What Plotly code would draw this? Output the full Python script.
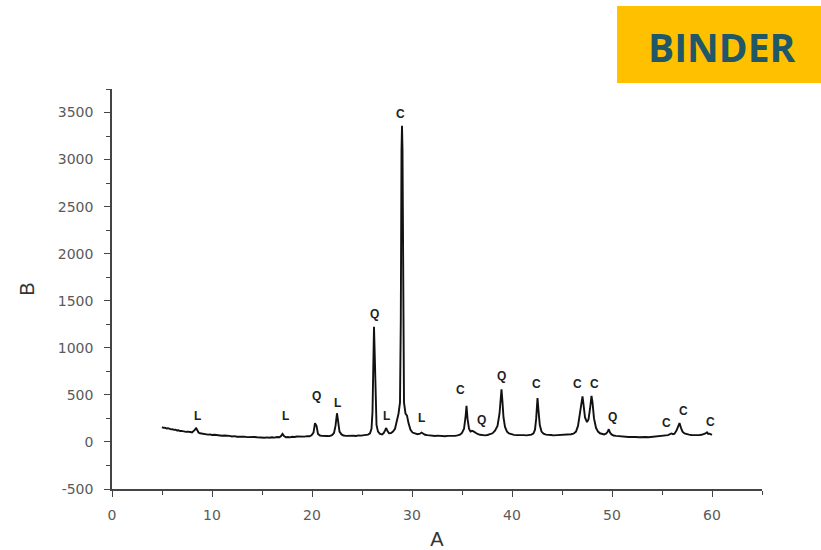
import plotly.graph_objects as go

# Diffraction pattern (A = position, B = intensity)
pattern_points = [
    (5.0, 158), (5.15, 150), (5.3, 152), (5.45, 143), (5.6, 146), (5.75, 138), (5.9, 134),
    (6.05, 136), (6.2, 128), (6.35, 130), (6.5, 122), (6.65, 124), (6.8, 116), (6.95, 118),
    (7.1, 112), (7.25, 113), (7.4, 107), (7.55, 110), (7.7, 104), (7.85, 106), (8.0, 102),
    (8.15, 112), (8.3, 130), (8.4, 150), (8.5, 128), (8.65, 100), (8.8, 92), (9.0, 88),
    (9.2, 84), (9.4, 86), (9.6, 78), (9.8, 80), (10.0, 74), (10.25, 76), (10.5, 70),
    (10.75, 72), (11.0, 66), (11.25, 68), (11.5, 62), (11.75, 64), (12.0, 58), (12.25, 62),
    (12.5, 55), (12.75, 58), (13.0, 53), (13.25, 57), (13.5, 51), (13.75, 54), (14.0, 49),
    (14.25, 53), (14.5, 50), (14.75, 46), (15.0, 50), (15.25, 45), (15.5, 48), (15.75, 44),
    (16.0, 49), (16.25, 46), (16.5, 52), (16.75, 50), (16.9, 62), (17.05, 85), (17.2, 62),
    (17.4, 50), (17.6, 53), (17.8, 49), (18.0, 55), (18.25, 52), (18.5, 58), (18.75, 55),
    (19.0, 60), (19.25, 57), (19.5, 62), (19.75, 60), (19.95, 70), (20.15, 100), (20.3, 200),
    (20.45, 170), (20.6, 85), (20.8, 68), (21.0, 64), (21.25, 60), (21.5, 63), (21.75, 62),
    (22.0, 72), (22.2, 95), (22.35, 170), (22.5, 305), (22.6, 200), (22.75, 110), (22.95, 80),
    (23.15, 68), (23.4, 64), (23.65, 67), (23.9, 62), (24.15, 66), (24.4, 64), (24.65, 70),
    (24.9, 67), (25.15, 72), (25.4, 70), (25.6, 78), (25.8, 92), (25.95, 140), (26.05, 320),
    (26.15, 1000), (26.2, 1225), (26.28, 900), (26.36, 400), (26.45, 180), (26.6, 110),
    (26.8, 85), (27.0, 80), (27.15, 92), (27.3, 120), (27.42, 148), (27.55, 115), (27.7, 92),
    (27.9, 95), (28.1, 110), (28.3, 140), (28.5, 220), (28.65, 300), (28.8, 420),
    (28.88, 1300), (28.95, 3100), (29.0, 3360), (29.05, 3100), (29.12, 1250), (29.2, 420),
    (29.35, 300), (29.5, 280), (29.65, 200), (29.85, 130), (30.05, 100), (30.3, 88),
    (30.55, 82), (30.8, 88), (30.95, 100), (31.1, 90), (31.3, 76), (31.55, 72), (31.8, 68),
    (32.05, 70), (32.3, 64), (32.55, 67), (32.8, 62), (33.05, 65), (33.3, 60), (33.55, 64),
    (33.8, 62), (34.05, 66), (34.3, 64), (34.55, 70), (34.8, 78), (35.0, 95), (35.2, 140),
    (35.35, 260), (35.45, 385), (35.55, 250), (35.7, 140), (35.85, 110), (36.0, 118),
    (36.15, 112), (36.35, 95), (36.55, 85), (36.8, 76), (37.05, 72), (37.3, 70), (37.55, 74),
    (37.8, 80), (38.05, 92), (38.3, 120), (38.55, 170), (38.75, 300), (38.85, 450),
    (38.95, 560), (39.05, 420), (39.15, 260), (39.3, 160), (39.5, 110), (39.7, 90),
    (39.95, 80), (40.2, 75), (40.45, 72), (40.7, 74), (40.95, 70), (41.2, 72), (41.45, 70),
    (41.7, 74), (41.95, 78), (42.15, 92), (42.3, 130), (42.42, 250), (42.55, 465),
    (42.65, 330), (42.78, 180), (42.95, 110), (43.15, 88), (43.4, 78), (43.65, 72),
    (43.9, 74), (44.15, 70), (44.4, 72), (44.65, 70), (44.9, 74), (45.15, 72), (45.4, 78),
    (45.65, 75), (45.9, 82), (46.15, 88), (46.4, 110), (46.6, 170), (46.8, 300), (46.95, 430),
    (47.05, 485), (47.15, 400), (47.3, 260), (47.5, 210), (47.65, 240), (47.8, 350),
    (47.95, 490), (48.05, 420), (48.2, 250), (48.4, 150), (48.6, 110), (48.8, 92), (49.0, 85),
    (49.2, 80), (49.4, 88), (49.55, 105), (49.68, 135), (49.8, 100), (49.95, 80), (50.15, 68),
    (50.4, 64), (50.65, 60), (50.9, 58), (51.15, 56), (51.4, 55), (51.65, 52), (51.9, 54),
    (52.15, 50), (52.4, 52), (52.65, 50), (52.9, 53), (53.15, 49), (53.4, 52), (53.65, 50),
    (53.9, 53), (54.15, 52), (54.4, 56), (54.65, 55), (54.9, 60), (55.15, 62), (55.4, 66),
    (55.6, 72), (55.8, 82), (55.95, 90), (56.1, 82), (56.25, 88), (56.45, 120), (56.6, 165),
    (56.75, 200), (56.9, 150), (57.05, 110), (57.25, 90), (57.45, 82), (57.7, 78), (57.95, 74),
    (58.2, 72), (58.45, 74), (58.7, 72), (58.95, 76), (59.2, 80), (59.35, 90), (59.5, 102),
    (59.62, 85), (59.75, 88), (59.9, 78), (60.0, 75),
]
pattern_x = [p[0] for p in pattern_points]
pattern_y = [p[1] for p in pattern_points]

# Phase labels (L, Q, C) and where they sit
label_text = ["L", "L", "Q", "L", "Q", "L", "C", "L", "C", "Q", "Q", "C", "C", "C", "Q",
              "C", "C", "C"]
label_x = [8.5, 17.3, 20.4, 22.5, 26.2, 27.4, 28.8, 30.9, 34.8, 36.9, 38.9, 42.4, 46.5,
           48.2, 50.0, 55.4, 57.1, 59.8]
label_y = [277, 277, 489, 415, 1362, 277, 3489, 255, 553, 234, 702, 617, 617, 617, 266,
           202, 330, 213]

x_ticks = [0, 10, 20, 30, 40, 50, 60]
y_ticks = [-500, 0, 500, 1000, 1500, 2000, 2500, 3000, 3500]

fig = go.Figure()
fig.add_trace(go.Scatter(x=pattern_x, y=pattern_y, mode="lines",
                         line=dict(color="#111111", width=1.9), hoverinfo="skip",
                         showlegend=False))

for t, lx, ly in zip(label_text, label_x, label_y):
    fig.add_annotation(x=lx, y=ly, text=t, showarrow=False,
                       font=dict(family="Liberation Sans", size=12, color="#222222",
                                 weight="bold"))

axis_common = dict(showgrid=False, zeroline=False, showline=True, linecolor="#444444",
                   linewidth=1.5, ticks="outside", ticklen=6, tickwidth=1.3,
                   tickcolor="#444444", automargin=False,
                   tickfont=dict(family="DejaVu Sans", size=14, color="#5a5a5a"))

fig.update_xaxes(range=[0, 65], tickvals=x_ticks, ticktext=[str(v) for v in x_ticks],
                 ticklabelstandoff=6, **axis_common,
                 minor=dict(dtick=5, ticks="outside", ticklen=4, tickcolor="#444444"),
                 title=dict(text="A", font=dict(family="Liberation Sans", size=20,
                                                 color="#333333"), standoff=16))
fig.update_yaxes(range=[-500, 3750], tickvals=y_ticks, ticktext=[str(v) for v in y_ticks],
                 ticklabelstandoff=8, **axis_common,
                 minor=dict(dtick=250, ticks="outside", ticklen=4, tickcolor="#444444"),
                 title=dict(text="B", font=dict(family="Liberation Sans", size=20,
                                                 color="#333333"), standoff=18))

# BINDER badge
fig.add_shape(type="rect", xref="paper", yref="paper", x0=0.777, x1=1.0908,
              y0=1.015, y1=1.2075, fillcolor="#FFC000", line=dict(width=0), layer="above")
fig.add_annotation(xref="paper", yref="paper", x=0.9385, y=1.1075, text="BINDER",
                   showarrow=False, xanchor="center", yanchor="middle",
                   font=dict(family="Open Sans", size=39, color="#215868", weight="bold"))

fig.update_layout(width=821, height=550, margin=dict(l=112, r=59, t=89, b=61),
                  paper_bgcolor="white", plot_bgcolor="white")

fig.write_html("out.html")
